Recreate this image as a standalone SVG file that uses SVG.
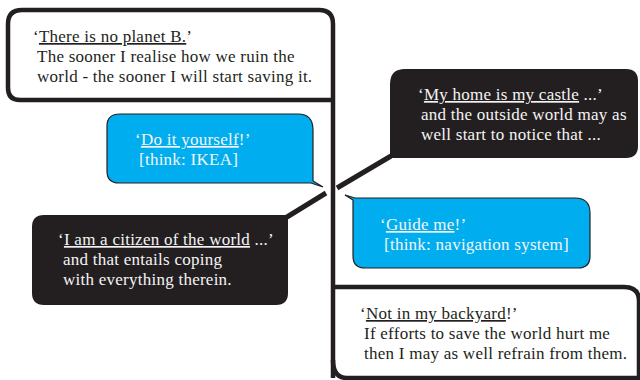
<svg xmlns="http://www.w3.org/2000/svg" width="640" height="380" viewBox="0 0 640 380">
<style>
.frame{fill:none;stroke:#231f20;stroke-width:4.5;stroke-linejoin:round}
.blue{fill:#00aeef;stroke:#231f20;stroke-width:1.2;stroke-linejoin:miter}
.dark{fill:#231f20;stroke:none}
.tail{stroke:#231f20;stroke-width:5;stroke-linecap:butt;fill:none}
text{font-family:"Liberation Serif","Times New Roman",serif;font-size:17px;letter-spacing:0.25px}
.t-dark{fill:#231f20}
.t-light{fill:#f4f4f4}
.u{text-decoration:underline}
</style>
<rect width="640" height="380" fill="#fff"/>
<g id="frame-lines">
<path class="frame" d="M333,378 L333,24 Q333,10 319,10 L22,10 Q8,10 8,24 L8,88 Q8,100 20,100 L333,100"/>
<path class="frame" d="M333,287 L624,287 Q639,287 639,301 L639,380 M345,378 L640,378 M333,360 Q333,378 347,378"/>
</g>
<g id="node-planet-b">
<text class="t-dark"><tspan x="33" y="42">‘<tspan class="u">There is no planet B.</tspan>’</tspan><tspan x="37" y="62">The sooner I realise how we ruin the</tspan><tspan x="37" y="82">world - the sooner I will start saving it.</tspan></text>
</g>
<g id="node-diy">
<path class="blue" d="M120,114 L298,114 Q313,114 313,130 L313,181 L323,187 L311,183 L119,183 Q107,183 107,171 L107,126 Q107,114 120,114 Z"/>
<text class="t-light"><tspan x="135" y="145">‘<tspan class="u">Do it yourself</tspan>!’</tspan><tspan x="139" y="165">[think: IKEA]</tspan></text>
</g>
<g id="node-castle">
<path class="dark" d="M405,69 L626,69 Q638,69 638,81 L638,146 Q638,158 626,158 L390,158 L390,84 Q390,69 405,69 Z"/>
<text class="t-light"><tspan x="418" y="100">‘<tspan class="u">My home is my castle</tspan> ...’</tspan><tspan x="421" y="120">and the outside world may as</tspan><tspan x="421" y="140">well start to notice that ...</tspan></text>
</g>
<g id="node-citizen">
<path class="dark" d="M44,215 L288,215 L288,293 Q288,305 276,305 L44,305 Q32,305 32,293 L32,227 Q32,215 44,215 Z"/>
<text class="t-light"><tspan x="58" y="245">‘<tspan class="u">I am a citizen of the world</tspan> ...’</tspan><tspan x="63" y="265">and that entails coping</tspan><tspan x="63" y="285">with everything therein.</tspan></text>
</g>
<g id="node-guide">
<path class="blue" d="M345,195 L355,198 L575,198 Q590,198 590,213 L590,256 Q590,268 578,268 L365,268 Q353,268 353,256 L353,200 Z"/>
<text class="t-light"><tspan x="380" y="230">‘<tspan class="u">Guide me</tspan>!’</tspan><tspan x="384" y="250">[think: navigation system]</tspan></text>
</g>
<g id="node-backyard">
<text class="t-dark"><tspan x="360" y="319">‘<tspan class="u">Not in my backyard</tspan>!’</tspan><tspan x="364" y="339">If efforts to save the world hurt me</tspan><tspan x="364" y="359">then I may as well refrain from them.</tspan></text>
</g>
<g id="connectors">
<line class="tail" x1="391" y1="156" x2="337" y2="188"/>
<line class="tail" x1="287" y1="217" x2="326" y2="193"/>
</g>
</svg>
